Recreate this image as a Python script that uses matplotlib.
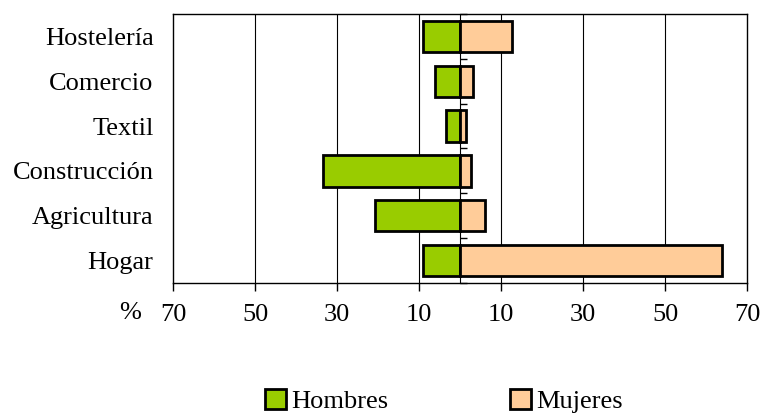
import matplotlib
matplotlib.use("Agg")
import matplotlib.pyplot as plt
from matplotlib.patches import Patch

categories = ["Hostelería", "Comercio", "Textil", "Construcción", "Agricultura", "Hogar"]
hombres = [9, 6, 3.5, 33.5, 20.7, 9]
mujeres = [12.7, 3.2, 1.5, 2.6, 6.0, 64]
xticks = [-70, -50, -30, -10, 10, 30, 50, 70]
xticklabels = ["70", "50", "30", "10", "10", "30", "50", "70"]

plt.rcParams['font.family'] = ['Liberation Serif', 'DejaVu Serif']
FS = 19

fig = plt.figure(figsize=(7.62, 4.15), dpi=100)
ax = fig.add_axes([173/762, 1-283/415, (747-173)/762, (283-14)/415])

ypos = list(range(len(categories)))
green = "#99CC00"
peach = "#FFCC99"
ax.barh(ypos, [-h for h in hombres], height=0.7, color=green, edgecolor="black", linewidth=2.0, zorder=3)
ax.barh(ypos, mujeres, height=0.7, color=peach, edgecolor="black", linewidth=2.0, zorder=3)

ax.set_xlim(-70, 70)
ax.set_ylim(len(categories) - 0.5, -0.5)
ax.set_xticks(xticks)
ax.set_xticklabels(xticklabels, fontsize=FS)
ax.set_yticks(ypos)
ax.set_yticklabels(categories, fontsize=FS)
ax.tick_params(axis='y', length=0, pad=14)
ax.tick_params(axis='x', direction='out', length=6, width=1, pad=9)
for g in [-50, -30, -10, 10, 30, 50]:
    ax.axvline(g, color="black", linewidth=0.8, zorder=1)
for s in ax.spines.values():
    s.set_linewidth(1.0)

sec = ax.secondary_yaxis(0.5)
sec.set_yticks([i + 0.5 for i in range(-1, len(categories))])
sec.set_yticklabels([])
sec.tick_params(direction='out', length=5, width=1)
sec.spines['left'].set_linewidth(1.2)
sec.spines['left'].set_zorder(4)

fig.text(130/762, 1-313/415, "%", fontsize=FS, ha='center', va='center')

handles = [Patch(facecolor=green, edgecolor="black", linewidth=2.0, label="Hombres"),
           Patch(facecolor=peach, edgecolor="black", linewidth=2.0, label="Mujeres")]
fig.legend(handles=handles, loc='center', bbox_to_anchor=(444/762, 1-401/415), ncol=2,
           frameon=False, fontsize=FS, handlelength=0.8, handleheight=0.8,
           handletextpad=0.2, columnspacing=4.6)

fig.savefig("out.png", dpi=100)
